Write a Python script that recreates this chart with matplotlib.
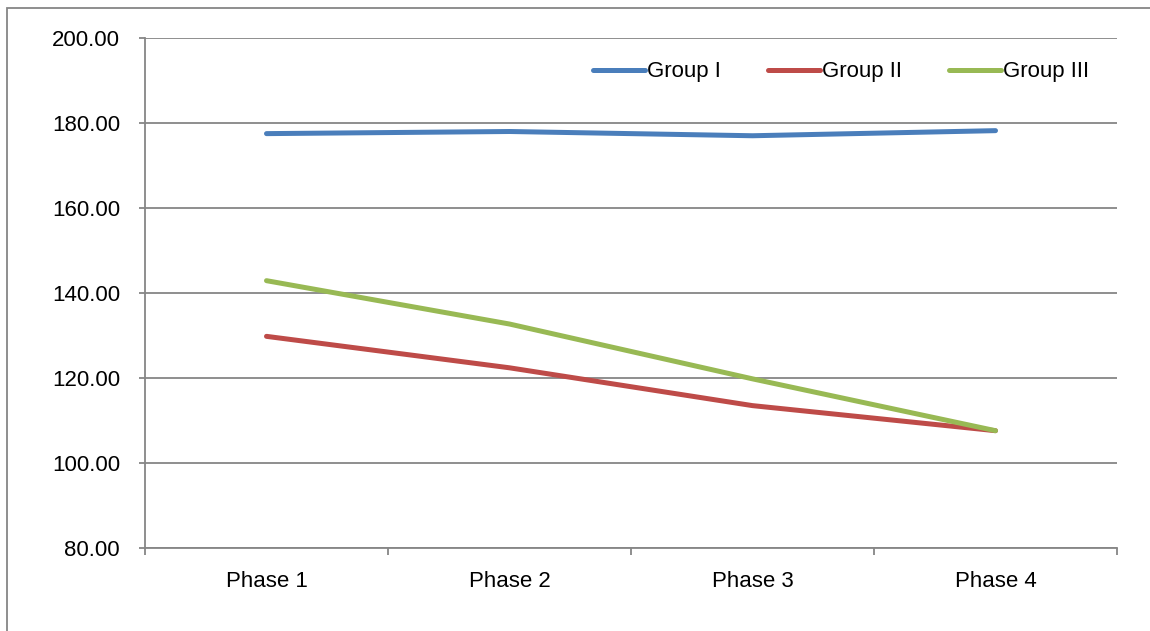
import matplotlib
matplotlib.use("Agg")
import matplotlib.pyplot as plt
from matplotlib.patches import Rectangle

phases = ["Phase 1", "Phase 2", "Phase 3", "Phase 4"]
group_1 = [177.5, 178.0, 177.0, 178.2]
group_2 = [129.8, 122.4, 113.5, 107.6]
group_3 = [142.9, 132.7, 119.8, 107.6]
series_names = ["Group I", "Group II", "Group III"]
y_ticks = [80, 100, 120, 140, 160, 180, 200]

colors = ["#4A7EBB", "#BE4B48", "#98B954"]
grid_gray = "#868686"

plt.rcParams["font.family"] = ["Liberation Sans", "DejaVu Sans"]
FS = 16

W, H = 1150, 631
fig = plt.figure(figsize=(W / 100, H / 100), dpi=100)

# outer chart frame
fig.patches.append(Rectangle((7 / W, -0.5), 2.0, 1.5 - 8 / H, transform=fig.transFigure,
                             fill=False, edgecolor=grid_gray, linewidth=1.3))

ax = fig.add_axes([145 / W, 1 - 548 / H, (1117 - 145) / W, (548 - 38) / H])
x = list(range(len(phases)))
for vals, name, c in zip([group_1, group_2, group_3], series_names, colors):
    ax.plot(x, vals, color=c, linewidth=3.6, solid_capstyle="round",
            solid_joinstyle="round", label=name)

ax.set_xlim(-0.5, len(phases) - 0.5)
ax.set_ylim(y_ticks[0], y_ticks[-1])
ax.set_yticks(y_ticks)
ax.set_yticklabels([f"{v:.2f}" for v in y_ticks])
ax.yaxis.grid(True, color=grid_gray, linewidth=1.3)
ax.set_axisbelow(True)

ax.set_xticks(x)
ax.set_xticklabels(phases)
ax.set_xticks([i - 0.5 for i in range(len(phases) + 1)], minor=True)
ax.tick_params(axis="x", which="major", length=0, pad=16.5, labelsize=FS)
ax.tick_params(axis="x", which="minor", length=5, width=1.3, color=grid_gray, direction="out")
ax.tick_params(axis="y", length=4.5, width=1.3, color=grid_gray, direction="out", pad=13.5, labelsize=FS)

for s in ["top", "right"]:
    ax.spines[s].set_visible(False)
for s in ["left", "bottom"]:
    ax.spines[s].set_color(grid_gray)
    ax.spines[s].set_linewidth(1.3)

ax.legend(loc="center left", bbox_to_anchor=(593 / W, 1 - 72 / H),
          bbox_transform=fig.transFigure, ncol=3, frameon=False,
          handlelength=2.34, handletextpad=0.1, columnspacing=2.1,
          borderpad=0, borderaxespad=0, fontsize=FS)

fig.savefig("out.png", dpi=100)
